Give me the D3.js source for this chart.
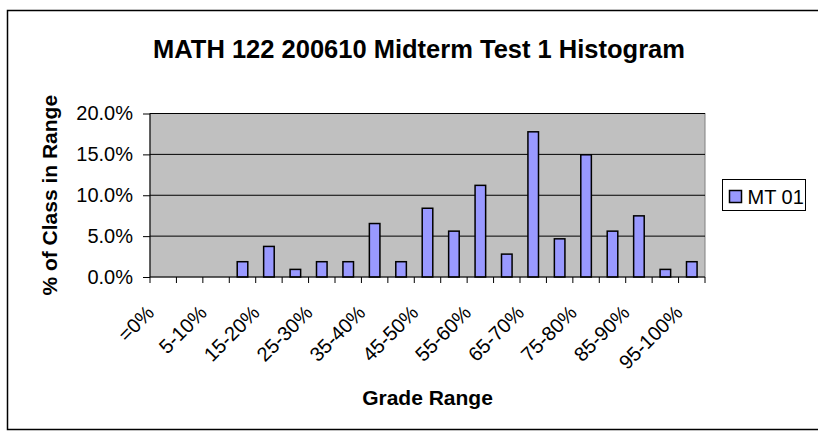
<!DOCTYPE html>
<html>
<head>
<meta charset="utf-8">
<script src="https://cdn.jsdelivr.net/npm/d3@7"></script>
<style>
  body { margin: 0; background: #fff; }
  text { font-family: "Liberation Sans", Arial, sans-serif; fill: #000; }
</style>
</head>
<body>
<div id="wrapper"></div>
<script>
const ranges = [`=0%`, `0-5%`, `5-10%`, `10-15%`, `15-20%`, `20-25%`, `25-30%`, `30-35%`,
  `35-40%`, `40-45%`, `45-50%`, `50-55%`, `55-60%`, `60-65%`, `65-70%`, `70-75%`,
  `75-80%`, `80-85%`, `85-90%`, `90-95%`, `95-100%`];
const mt01 = [0, 0, 0, 1.87, 3.74, 0.93, 1.87, 1.87, 6.54, 1.87, 8.41,
  5.61, 11.21, 2.80, 17.76, 4.67, 14.95, 5.61, 7.48, 0.93, 1.87];
const yTicks = [0, 5, 10, 15, 20];

const margin = { top: 113.5, right: 113, bottom: 156, left: 150 };
const fullW = 818, fullH = 433;
const width = fullW - margin.left - margin.right;
const height = fullH - margin.top - margin.bottom;

const svg = d3.select(`#wrapper`)
  .append(`svg`)
  .attr(`width`, fullW)
  .attr(`height`, fullH);

// chart frame
svg.append(`rect`)
  .attr(`x`, 7.5).attr(`y`, 10.5)
  .attr(`width`, 830).attr(`height`, 419)
  .attr(`fill`, `none`).attr(`stroke`, `#000`).attr(`stroke-width`, 1.5);

svg.append(`text`)
  .attr(`x`, 419).attr(`y`, 58)
  .attr(`text-anchor`, `middle`)
  .attr(`font-size`, 25.5).attr(`font-weight`, `bold`)
  .text(`MATH 122 200610 Midterm Test 1 Histogram`);

const g = svg.append(`g`)
  .attr(`transform`, `translate(${margin.left}, ${margin.top})`);

const xScale = d3.scaleBand()
  .domain(ranges)
  .range([0, width])
  .paddingInner(0.6).paddingOuter(0.3);

const yScale = d3.scaleLinear()
  .domain([0, 20])
  .range([height, 0]);

g.append(`rect`)
  .attr(`width`, width).attr(`height`, height)
  .attr(`fill`, `#c0c0c0`).attr(`stroke`, `#808080`);

g.selectAll(`.grid`)
  .data(yTicks.filter(d => d > 0))
  .enter().append(`line`)
  .attr(`class`, `grid`)
  .attr(`x1`, 0).attr(`x2`, width)
  .attr(`y1`, d => yScale(d)).attr(`y2`, d => yScale(d))
  .attr(`stroke`, `#000`).attr(`stroke-width`, 1);

g.selectAll(`.bar`)
  .data(mt01.map((v, i) => ({ range: ranges[i], value: v })).filter(d => d.value > 0))
  .enter().append(`rect`)
  .attr(`class`, `bar`)
  .attr(`x`, d => xScale(d.range))
  .attr(`y`, d => yScale(d.value))
  .attr(`width`, xScale.bandwidth())
  .attr(`height`, d => height - yScale(d.value))
  .attr(`fill`, `#9999ff`)
  .attr(`stroke`, `#000`).attr(`stroke-width`, 1.5);

// y axis
const yAxis = g.append(`g`)
  .call(d3.axisLeft(yScale).tickValues(yTicks).tickSize(7).tickPadding(10)
    .tickFormat(d => d3.format(`.1f`)(d) + `%`));
yAxis.selectAll(`text`).attr(`font-size`, 20).style(`font-family`, `"Liberation Sans", Arial, sans-serif`);
yAxis.selectAll(`path, line`).attr(`stroke`, `#000`);
yAxis.select(`.domain`).attr(`d`, `M0,0V${height}`);

// x axis: ticks on category boundaries
const step = width / ranges.length;
const xAxis = g.append(`g`).attr(`transform`, `translate(0, ${height})`);
xAxis.append(`line`).attr(`x1`, 0).attr(`x2`, width).attr(`stroke`, `#000`);
xAxis.selectAll(`.tick`)
  .data(d3.range(ranges.length + 1))
  .enter().append(`line`)
  .attr(`class`, `tick`)
  .attr(`x1`, i => i * step).attr(`x2`, i => i * step)
  .attr(`y1`, 0).attr(`y2`, 6)
  .attr(`stroke`, `#000`);

xAxis.selectAll(`.xlabel`)
  .data(ranges.filter((d, i) => i % 2 === 0))
  .enter().append(`text`)
  .attr(`class`, `xlabel`)
  .attr(`text-anchor`, `end`)
  .attr(`font-size`, 20)
  .attr(`transform`, d => `translate(${xScale(d) + xScale.bandwidth() / 2 - 8}, 37) rotate(-45)`)
  .text(d => d);

svg.append(`text`)
  .attr(`transform`, `translate(57, ${margin.top + height / 2}) rotate(-90)`)
  .attr(`text-anchor`, `middle`)
  .attr(`font-size`, 21).attr(`font-weight`, `bold`)
  .text(`% of Class in Range`);

svg.append(`text`)
  .attr(`x`, margin.left + width / 2).attr(`y`, 405)
  .attr(`text-anchor`, `middle`)
  .attr(`font-size`, 21).attr(`font-weight`, `bold`)
  .text(`Grade Range`);

// legend
const legend = svg.append(`g`).attr(`transform`, `translate(722.5, 179.5)`);
legend.append(`rect`)
  .attr(`width`, 83).attr(`height`, 31)
  .attr(`fill`, `#fff`).attr(`stroke`, `#000`);
legend.append(`rect`)
  .attr(`x`, 7).attr(`y`, 11).attr(`width`, 12).attr(`height`, 12)
  .attr(`fill`, `#9999ff`).attr(`stroke`, `#000`).attr(`stroke-width`, 1.5);
legend.append(`text`)
  .attr(`x`, 25).attr(`y`, 24)
  .attr(`font-size`, 20)
  .text(`MT 01`);
</script>
</body>
</html>
